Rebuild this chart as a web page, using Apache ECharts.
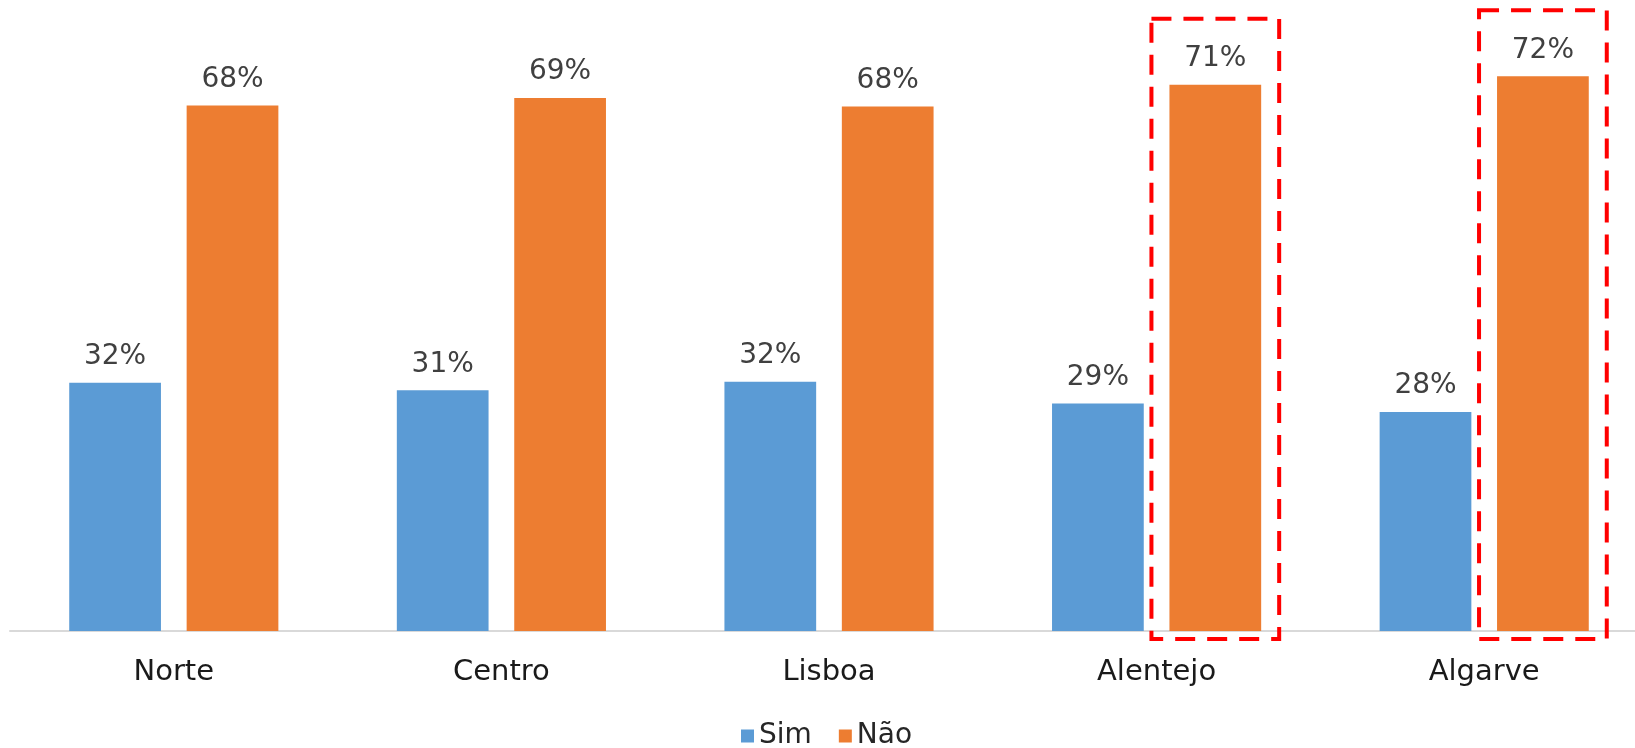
<!DOCTYPE html>
<html>
<head>
<meta charset="utf-8">
<script src="https://cdn.jsdelivr.net/npm/echarts@6/dist/echarts.min.js"></script>
<style>
  html, body { margin: 0; padding: 0; background: #fff; overflow: hidden; }
  /* the plot runs a little past the right edge of the picture, as in the original */
  #chart { width: 1648px; height: 748px; }
</style>
</head>
<body>
<div id="chart"></div>
<script>
const regions = ["Norte", "Centro", "Lisboa", "Alentejo", "Algarve"];
const sim = [32.1, 31.1, 32.2, 29.4, 28.3];
const nao = [67.9, 68.9, 67.8, 70.6, 71.7];
const highlighted = ["Alentejo", "Algarve"];

const font = "DejaVu Sans";
const barW = 0.28;   // share of band per bar
const gapRatio = 0.28;

let myChart = echarts.init(document.getElementById("chart"));

const boxData = highlighted.map(r => {
  const i = regions.indexOf(r);
  return [i, nao[i]];
});

const valueLabel = {
  show: true,
  position: "top",
  distance: 12,
  formatter: p => Math.round(p.value) + "%",
  fontFamily: font,
  fontSize: 28,
  color: "#404040"
};

let option = {
  animation: false,
  grid: { left: 10, top: 12, right: 0, bottom: 117 },
  legend: {
    data: ["Sim", "Não"],
    left: 736,
    top: 717,
    itemWidth: 13,
    itemHeight: 13,
    itemGap: 27,
    icon: "rect",
    textStyle: { fontFamily: font, fontSize: 28, color: "#262626" }
  },
  xAxis: {
    type: "category",
    data: regions,
    axisLine: { lineStyle: { color: "#d9d9d9", width: 2 } },
    axisTick: { show: false },
    axisLabel: { fontFamily: font, fontSize: 29, color: "#1a1a1a", margin: 27 }
  },
  yAxis: {
    type: "value",
    min: 0,
    max: 80,
    show: false,
    splitLine: { show: false }
  },
  series: [
    {
      name: "Sim",
      type: "bar",
      data: sim,
      barWidth: barW * 100 + "%",
      barGap: gapRatio * 100 + "%",
      itemStyle: { color: "#5B9BD5" },
      label: valueLabel
    },
    {
      name: "Não",
      type: "bar",
      data: nao,
      barWidth: barW * 100 + "%",
      barGap: gapRatio * 100 + "%",
      itemStyle: { color: "#ED7D31" },
      label: valueLabel
    },
    {
      // dashed red boxes round the highlighted "Não" bars
      name: "destaque",
      type: "custom",
      clip: false,
      silent: true,
      data: boxData,
      renderItem: (params, api) => {
        const band = api.size([1, 0])[0];
        const top = api.coord([api.value(0), api.value(1)]);
        const base = api.coord([api.value(0), 0]);
        const w = band * barW;
        const group = w * (2 + gapRatio);
        const cx = top[0] + group / 2 - w / 2;
        const pad = 18;
        return {
          type: "rect",
          shape: {
            x: cx - w / 2 - pad,
            y: top[1] - 66,
            width: w + pad * 2,
            height: base[1] - top[1] + 66 + 8
          },
          style: {
            fill: "none",
            stroke: "#FF0000",
            lineWidth: 4,
            lineDash: [20, 12]
          }
        };
      }
    }
  ]
};
myChart.setOption(option);
</script>
</body>
</html>
